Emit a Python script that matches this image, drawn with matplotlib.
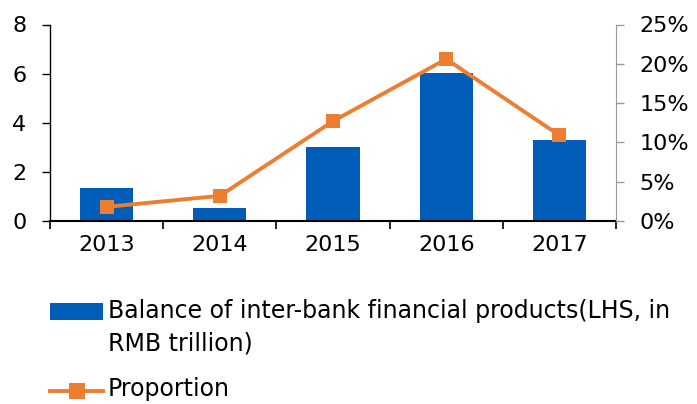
import matplotlib.pyplot as plt
from matplotlib.patches import Rectangle
from matplotlib.lines import Line2D

years = ["2013", "2014", "2015", "2016", "2017"]
balance = [1.36, 0.53, 3.02, 6.02, 3.28]
proportion = [1.8, 3.2, 12.7, 20.6, 10.9]

blue = "#005EB8"
orange = "#ED7D31"
W, H = 697, 404

plt.rcParams['font.family'] = ['DejaVu Sans']
plt.rcParams['font.size'] = 16

fig = plt.figure(figsize=(W / 100, H / 100), dpi=100)
ax = fig.add_axes([50 / W, 1 - 221 / H, 566 / W, 196.5 / H])
ax2 = ax.twinx()

x = list(range(len(years)))
ax.bar(x, balance, width=0.47, color=blue, zorder=2)
ax2.plot(x, proportion, color=orange, lw=2.8, marker="s", markersize=10.5,
         markeredgewidth=0, zorder=3)

ax.set_xlim(-0.5, 4.5)
ax.set_ylim(0, 8)
ax.set_yticks([0, 2, 4, 6, 8])
ax2.set_ylim(0, 25)
ax2.set_yticks([0, 5, 10, 15, 20, 25])
ax2.set_yticklabels([f"{v}%" for v in [0, 5, 10, 15, 20, 25]])

ax.set_xticks(x)
ax.set_xticklabels(years)
ax.set_xticks([i - 0.5 for i in range(len(years) + 1)], minor=True)
ax.tick_params(axis="x", which="major", length=0, pad=10)
ax.tick_params(axis="x", which="minor", length=6, width=1.2, direction="out")
ax.tick_params(axis="y", length=6, width=1, direction="out", pad=11)
ax2.tick_params(axis="y", length=6, width=1, direction="out", color="#999999", pad=11)

for a in (ax, ax2):
    a.spines["top"].set_visible(False)
ax.spines["right"].set_visible(False)
ax2.spines["left"].set_visible(False)
ax2.spines["bottom"].set_visible(False)
ax2.spines["right"].set_color("#999999")
ax.spines["left"].set_linewidth(1)
ax.spines["bottom"].set_linewidth(1.5)

# legend drawn by hand to get the wrapped label spacing
fig.add_artist(Rectangle((50 / W, 1 - 320 / H), 53 / W, 17 / H,
                         transform=fig.transFigure, facecolor=blue, edgecolor="none"))
fig.text(108 / W, 1 - 311 / H, "Balance of inter-bank financial products(LHS, in",
         fontsize=17, va="center", ha="left")
fig.text(108 / W, 1 - 343 / H, "RMB trillion)", fontsize=17, va="center", ha="left")
fig.add_artist(Line2D([50 / W, 103 / W], [1 - 391 / H, 1 - 391 / H], transform=fig.transFigure,
                      color=orange, lw=2.8))
fig.add_artist(Line2D([76.5 / W], [1 - 391 / H], transform=fig.transFigure,
                      color=orange, marker="s", markersize=11, markeredgewidth=0, lw=0))
fig.text(108 / W, 1 - 389 / H, "Proportion", fontsize=17, va="center", ha="left")

fig.savefig("out.png", dpi=100)
